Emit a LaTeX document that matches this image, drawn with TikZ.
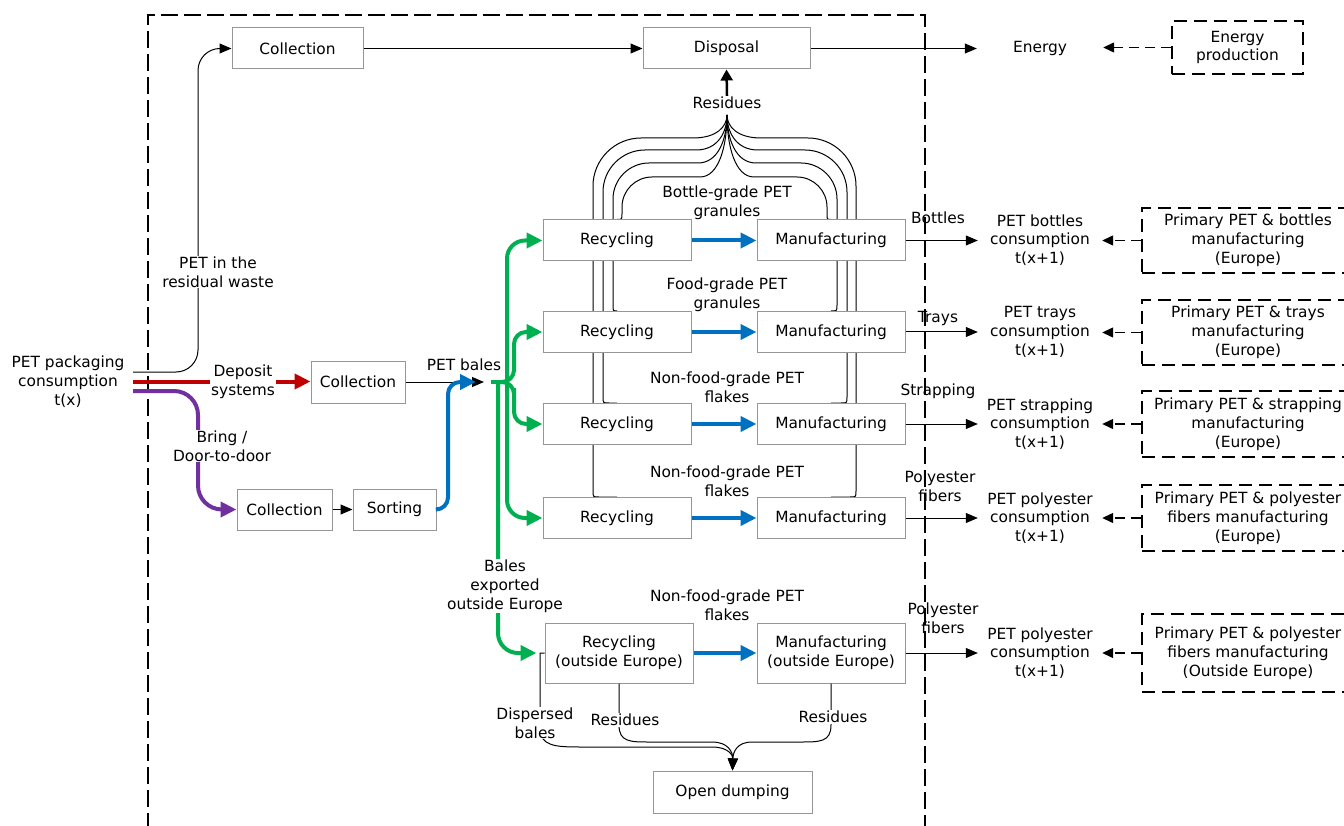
\documentclass[tikz,border=0pt]{standalone}
\usepackage{fontspec}
\setmainfont{DejaVu Sans}
\usetikzlibrary{arrows.meta,backgrounds}

\definecolor{flowred}{HTML}{C00000}
\definecolor{flowpurple}{HTML}{7030A0}
\definecolor{flowblue}{HTML}{0070C0}
\definecolor{flowgreen}{HTML}{00B050}
\definecolor{boxgray}{HTML}{969696}

\begin{document}
\begin{tikzpicture}[x=1pt,y=-1pt]
  \tikzset{every node/.style={font=\fontsize{15.4}{18.8}\selectfont},
    proc box/.style={draw=boxgray, line width=1pt, fill=white, minimum width=148pt, minimum height=41pt, inner sep=0pt, align=center},
    ext box/.style={draw=black, line width=1.6pt, dash pattern=on 13pt off 7pt, minimum width=212pt, inner sep=0pt, align=center},
    txt/.style={align=center, inner sep=1pt},
    lbl/.style={align=center, fill=white, inner sep=1pt},
    res line/.style={line width=1pt},
    flow/.style={line width=1pt, -{Triangle[length=12pt,width=10pt]}},
    thick flow/.style={line width=4pt, -{Triangle[length=16pt,width=15pt]}},
    dash flow/.style={line width=1.3pt, dash pattern=on 10pt off 6pt, -{Triangle[length=11pt,width=10pt]}}}
  \useasboundingbox (0,0) rectangle (1344,826);
  \clip (0,0) rectangle (1344,826);

  % system boundary
  \draw[line width=1.3pt, dash pattern=on 17pt off 6pt] (148,830) -- (148,15) -- (925,15) -- (925,830);

  % processes
  \node[proc box, minimum width=131pt] (coltop) at (297.5,48.5) {Collection};
  \node[proc box, minimum width=167pt] (disp) at (726.5,48.5) {Disposal};
  \node[txt, minimum width=126pt] (energy) at (1040,48) {Energy};
  \node[ext box, minimum width=131pt, minimum height=53pt] (eprod) at (1237.5,47.5) {Energy\\production};

  \foreach \k/\y in {1/240.5, 2/332, 3/424, 4/518} {
    \node[proc box] (rec\k) at (617,\y) {Recycling};
    \node[proc box] (man\k) at (831,\y) {Manufacturing};
  }
  \node[proc box, minimum height=60pt] (recout) at (619,653) {Recycling\\(outside Europe)};
  \node[proc box, minimum height=60pt] (manout) at (831,653) {Manufacturing\\(outside Europe)};
  \node[proc box, minimum width=159pt, minimum height=42pt] (dump) at (732.5,792) {Open dumping};

  \node[proc box, minimum width=94pt, minimum height=42pt] (coldep) at (358,382) {Collection};
  \node[proc box, minimum width=95pt] (colbring) at (284.5,509.5) {Collection};
  \node[proc box, minimum width=83pt] (sorting) at (394.5,509.5) {Sorting};

  \node[txt] (cons) at (68,381.5) {PET packaging\\consumption\\t(x)};
  \coordinate (src) at (133,381.5);

  % consumption and primary production
  \node[txt, minimum width=124pt] (use1) at (1040,240) {PET bottles\\consumption\\t(x+1)};
  \node[txt, minimum width=124pt] (use2) at (1040,332) {PET trays\\consumption\\t(x+1)};
  \node[txt, minimum width=124pt] (use3) at (1040,424) {PET strapping\\consumption\\t(x+1)};
  \node[txt, minimum width=124pt] (use4) at (1040,518) {PET polyester\\consumption\\t(x+1)};
  \node[txt, minimum width=124pt] (use5) at (1040,653) {PET polyester\\consumption\\t(x+1)};

  \node[ext box, minimum height=65pt] (prim1) at (1248,240.5) {Primary PET \& bottles\\manufacturing\\(Europe)};
  \node[ext box, minimum height=65pt] (prim2) at (1248,332.5) {Primary PET \& trays\\manufacturing\\(Europe)};
  \node[ext box, minimum height=66pt] (prim3) at (1248,424) {Primary PET \& strapping\\manufacturing\\(Europe)};
  \node[ext box, minimum height=66pt] (prim4) at (1248,518) {Primary PET \& polyester\\fibers manufacturing\\(Europe)};
  \node[ext box, minimum height=78pt] (prim5) at (1248,653) {Primary PET \& polyester\\fibers manufacturing\\(Outside Europe)};

  % residues to disposal (behind the boxes)
  \coordinate (resjoin) at (727,115);
  \begin{pgfonlayer}{background}
    \foreach \xl/\dx/\yt/\yh/\r/\xe/\k in {593/6/497/138/48/693/4, 603/6/403/150/42/696/3, 613/4/311/163/36/698/2, 622/-5/219.5/177/30/700/1}
      \draw[res line] (rec\k.north) -- ({\xl+\dx},\yt) .. controls (\xl,\yt) .. (\xl,{\yt-6})
        -- (\xl,{\yh+\r}) .. controls (\xl,{\yh+0.45*\r}) and ({\xl+0.45*\r},\yh) .. ({\xl+\r},\yh)
        -- (\xe,\yh) .. controls ({\xe+0.7*(727-\xe)},\yh) and (727,{\yh-0.5*(\yh-115)}) .. (resjoin);
    \foreach \xr/\dx/\yt/\yh/\r/\xe/\k in {856/-6/497/138/48/761/4, 847/-6/403/150/42/758/3, 837/-6/311/163/36/756/2, 827/4/219.5/177/30/754/1}
      \draw[res line] (man\k.north) -- ({\xr+\dx},\yt) .. controls (\xr,\yt) .. (\xr,{\yt-6})
        -- (\xr,{\yh+\r}) .. controls (\xr,{\yh+0.45*\r}) and ({\xr-0.45*\r},\yh) .. ({\xr-\r},\yh)
        -- (\xe,\yh) .. controls ({\xe-0.7*(\xe-727)},\yh) and (727,{\yh-0.5*(\yh-115)}) .. (resjoin);
  \end{pgfonlayer}
  \node[txt] (restop) at (727,103) {Residues};
  \draw[line width=2.5pt, -{Triangle[length=11pt,width=12pt]}] (restop.north) -- (disp.south);

  % top row
  \draw[flow] (coltop) -- (disp);
  \draw[flow] (disp.east) -- (disp.east -| energy.west);
  \draw[dash flow] (eprod.west) -- (eprod.west -| energy.east);

  % collection routes
  \draw[flow, rounded corners=22pt] ([yshift=9.5pt]src) -| (198,150) |- (coltop.west);
  \draw[thick flow, flowred] (src) -- (src -| coldep.west);
  \draw[thick flow, flowpurple, rounded corners=24pt] ([yshift=-9.5pt]src) -| (198,450) |- (colbring.west);
  \draw[flow] (colbring) -- (sorting);
  \coordinate (balesin) at (484,382);
  \draw[flow] (coldep.east) -- (balesin);
  \draw[thick flow, flowblue, rounded corners=12pt] (sorting.east) -| (448,420) |- ([xshift=-8pt]balesin);

  % bales to recycling
  \coordinate (gj) at (491,382);
  \draw[line width=4pt, flowgreen] (gj) -- (507,382);
  \draw[thick flow, flowgreen, rounded corners=18pt] (507,382) |- (rec1.west);
  \draw[thick flow, flowgreen, rounded corners=18pt] (507,382) |- (rec4.west);
  \draw[thick flow, flowgreen, rounded corners=12pt] (500,382) -| (514,360) |- (rec2.west);
  \draw[thick flow, flowgreen, rounded corners=12pt] (500,382) -| (514,400) |- (rec3.west);
  \draw[thick flow, flowgreen, rounded corners=20pt] (498,382) |- ([xshift=-8pt]recout.west);

  % recycling to manufacturing
  \foreach \k in {1,2,3,4}
    \draw[thick flow, flowblue] (rec\k) -- (man\k);
  \draw[thick flow, flowblue] (recout) -- (manout);

  % products to consumption
  \foreach \k in {1,2,3,4}{
    \draw[flow] (man\k.east) -- (man\k.east -| use\k.west);
    \draw[dash flow] (prim\k.west) -- (prim\k.west -| use\k.east);
  }
  \draw[flow] (manout.east) -- (manout.east -| use5.west);
  \draw[dash flow] (prim5.west) -- (prim5.west -| use5.east);

  % open dumping
  \draw[flow] (recout.west) -- (540,653) -- (540,728) .. controls (540,746) and (555,747) .. (580,747)
    -- (712,747) .. controls (728,747) and (733,755) .. (dump.north);
  \draw[flow] (recout.south) -- (619,725) .. controls (619,742) and (630,742) .. (650,742)
    -- (712,742) .. controls (728,742) and (733,752) .. (dump.north);
  \draw[flow] (manout.south) -- (831,725) .. controls (831,742) and (820,742) .. (800,742)
    -- (752,742) .. controls (737,742) and (733,752) .. (dump.north);

  % labels
  \node[lbl] (lres) at (218,272) {PET in the\\residual waste};
  \node[lbl] (ldep) at (243,382) {Deposit\\systems};
  \node[lbl] (lbring) at (222,446) {Bring /\\Door-to-door};
  \node[txt] (lbales) at (464,365) {PET bales};
  \node[lbl] (lexp) at (505,586) {Bales\\exported\\outside Europe};
  \node[lbl] (ldisp) at (535,723) {Dispersed\\bales};
  \node[lbl] (lres1) at (625,720) {Residues};
  \node[lbl] (lres2) at (833,717) {Residues};

  \node[txt] (g1) at (727,203) {Bottle-grade PET\\granules};
  \node[txt] (g2) at (727,295) {Food-grade PET\\granules};
  \node[txt] (g3) at (727,387) {Non-food-grade PET\\flakes};
  \node[txt] (g4) at (727,481) {Non-food-grade PET\\flakes};
  \node[txt] (g5) at (727,605) {Non-food-grade PET\\flakes};

  \node[txt] (lb1) at (938,218) {Bottles};
  \node[txt] (lb2) at (938,318) {Trays};
  \node[txt] (lb3) at (938,391) {Strapping};
  \node[txt] (lb4) at (940,486) {Polyester\\fibers};
  \node[txt] (lb5) at (943,618) {Polyester\\fibers};
\end{tikzpicture}
\end{document}
